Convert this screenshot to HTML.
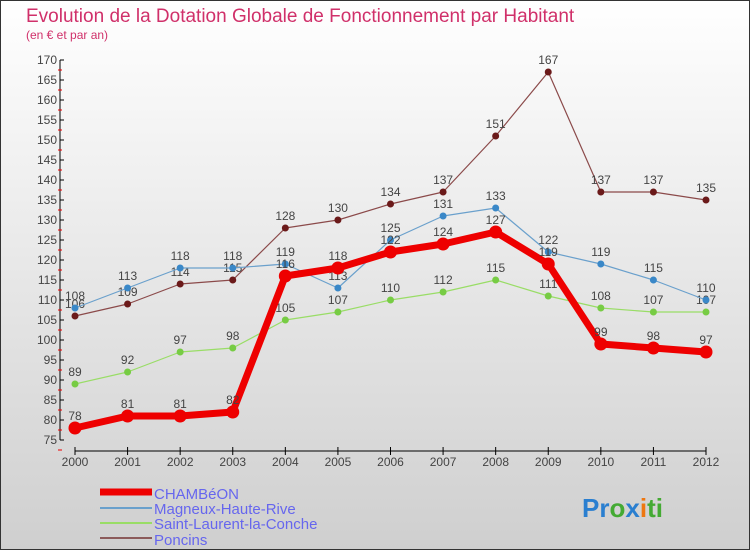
<!DOCTYPE html>
<html><head><meta charset="utf-8"><style>
body{margin:0;}
#c{width:750px;height:550px;position:relative;font-family:"Liberation Sans",sans-serif;}
</style></head><body>
<div id="c">
<svg id="s" width="750" height="550" xmlns="http://www.w3.org/2000/svg">
<defs><linearGradient id="bg" x1="0" y1="0" x2="0" y2="1"><stop offset="0" stop-color="#ffffff"/><stop offset="1" stop-color="#cfcfcf"/></linearGradient></defs>
<rect x="0.5" y="0.5" width="749" height="549" fill="url(#bg)" stroke="#333"/>
<text x="26" y="22" font-size="19" fill="#d0306a">Evolution de la Dotation Globale de Fonctionnement par Habitant</text>
<text x="26" y="39" font-size="12" fill="#d0306a">(en € et par an)</text>
<g id="axes"></g><g id="series"></g>
<g>
<line x1="100" y1="492" x2="152" y2="492" stroke="#ee0000" stroke-width="7"/>
<text x="154" y="499" font-size="15" fill="#6666ee">CHAMBéON</text>
<line x1="100" y1="508" x2="152" y2="508" stroke="#6aa0cc" stroke-width="2"/>
<text x="154" y="514" font-size="15" fill="#6666ee">Magneux-Haute-Rive</text>
<line x1="100" y1="523" x2="152" y2="523" stroke="#99dd66" stroke-width="2"/>
<text x="154" y="529" font-size="15" fill="#6666ee">Saint-Laurent-la-Conche</text>
<line x1="100" y1="538" x2="152" y2="538" stroke="#8b5a5a" stroke-width="2"/>
<text x="154" y="545" font-size="15" fill="#6666ee">Poncins</text>
</g>
<text x="582" y="517" font-size="26" font-weight="bold"><tspan fill="#2a7fd0">Pr</tspan><tspan fill="#44aa33">o</tspan><tspan fill="#2a7fd0">x</tspan><tspan fill="#ee7711">i</tspan><tspan fill="#44aa33">ti</tspan></text>
</svg></div>
<script>
const years=[2000,2001,2002,2003,2004,2005,2006,2007,2008,2009,2010,2011,2012];
const chambeon=[78,81,81,82,116,118,122,124,127,119,99,98,97];
const magneux=[108,113,118,118,119,113,125,131,133,122,119,115,110];
const saintLaurent=[89,92,97,98,105,107,110,112,115,111,108,107,107];
const poncins=[106,109,114,115,128,130,134,137,151,167,137,137,135];
const yTicks=[75,80,85,90,95,100,105,110,115,120,125,130,135,140,145,150,155,160,165,170];
const NS="http://www.w3.org/2000/svg";
const x=i=>75+i*(706-75)/(years.length-1);
const y=v=>60+(170-v)*4;
function mk(t,a,p){const e=document.createElementNS(NS,t);for(const k in a)e.setAttribute(k,a[k]);p.appendChild(e);return e;}
const ax=document.getElementById('axes');
const ya=mk('line',{x1:60,y1:y(75),x2:60,y2:y(170),stroke:'#000'},ax);


yTicks.forEach(v=>{
 mk('line',{x1:60,y1:y(v),x2:64,y2:y(v),stroke:'#000'},ax);
 mk('line',{x1:58,y1:y(v)+10,x2:62,y2:y(v)+10,stroke:'#e00'},ax);
 const t=mk('text',{x:57,y:y(v)+4,'font-size':12,fill:'#444','text-anchor':'end'},ax);
 t.textContent=v;
 
 
});
const xa=mk('line',{x1:x(0),y1:451,x2:x(12),y2:451,stroke:'#000'},ax);


years.forEach((yr,i)=>{
 mk('line',{x1:x(i),y1:447,x2:x(i),y2:455,stroke:'#000'},ax);
 const t=mk('text',{x:x(i),y:466,'font-size':12,fill:'#444','text-anchor':'middle'},ax);
 t.textContent=yr;
 
 
});
const sg=document.getElementById('series');
function series(d,name,col,dot,w,r){
 const g=mk('g',{},sg);
 
 
 const p=mk('polyline',{points:d.map((v,i)=>x(i)+','+y(v)).join(' '),fill:'none',stroke:col,'stroke-width':w,'stroke-linejoin':'round'},g);
 
 
 d.forEach((v,i)=>{
  const c=mk('circle',{cx:x(i),cy:y(v),r:r,fill:dot},g);
  
  
  const t=mk('text',{x:x(i),y:y(v)-8,'font-size':12,fill:'#444','text-anchor':'middle'},g);
  t.textContent=v;
  
  
 });
}
series(poncins,'poncins','#8b4a4a','#6b1a1a',1.2,3.5);
series(saintLaurent,'saint-laurent','#99dd66','#77cc44',1.2,3.5);
series(magneux,'magneux','#6aa0cc','#3a88c8',1.2,3.5);
series(chambeon,'chambeon','#ee0000','#ee0000',7,6.5);
</script>
</body></html>
